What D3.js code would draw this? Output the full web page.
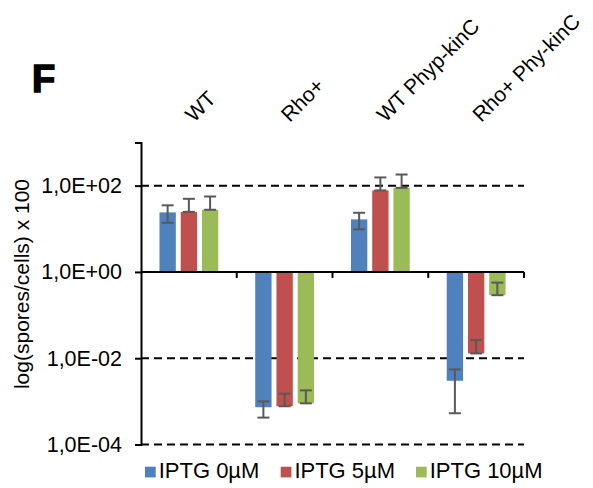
<!DOCTYPE html>
<html><head><meta charset="utf-8">
<script src="https://d3js.org/d3.v7.min.js"></script>
<style>body{margin:0;background:#fff}svg{display:block}text{font-family:"Liberation Sans",Arial,sans-serif}</style>
</head><body><svg id="c" width="593" height="488"></svg>
<script>
const categories = ["WT", "Rho+", "WT Phyp-kinC", "Rho+ Phy-kinC"];
const seriesNames = ["IPTG 0µM", "IPTG 5µM", "IPTG 10µM"];
const seriesColors = ["#4F81BD", "#C0504D", "#9BBB59"];
const iptg0 = [24, 7.3e-4, 16.5, 3.0e-3];
const iptg5 = [24.7, 7.7e-4, 77.5, 1.29e-2];
const iptg10 = [27.6, 9.0e-4, 89, 0.289];
const errHigh0 = [35, 1.0e-3, 23.5, 5.5e-3];
const errLow0 = [13.8, 4.2e-4, 9.7, 5.3e-4];
const errHigh5 = [49.5, 1.51e-3, 155, 2.63e-2];
const errLow5 = [null, null, null, null];
const errHigh10 = [56, 1.8e-3, 181, 0.566];
const errLow10 = [null, null, null, null];
const yTicks = [1e2, 1e0, 1e-2, 1e-4];
const yTickLabels = ["1,0E+02", "1,0E+00", "1,0E-02", "1,0E-04"];
const yTitle = "log(spores/cells) x 100";
const panelLabel = "F";

(function () {
const values = [iptg0, iptg5, iptg10];
const highs = [errHigh0, errHigh5, errHigh10];
const lows = [errLow0, errLow5, errLow10];

const svg = d3.select("#c");
const pLeft = 141, pRight = 524, pTop = 142.5, pBottom = 444.5;

const x0 = d3.scaleBand().domain(categories).range([pLeft, pRight]).padding(0);
const x1 = d3.scaleBand().domain(seriesNames).range([0, x0.bandwidth()]).paddingInner(0.23).paddingOuter(0.87);
const y = d3.scaleLog().domain([1e-4, 1e3]).range([pBottom, pTop]);
const base = y(1);

// gridlines (dashed)
svg.append("g").selectAll("line").data([1e2, 1e-2, 1e-4]).join("line")
  .attr("x1", pLeft).attr("x2", pRight)
  .attr("y1", d => y(d)).attr("y2", d => y(d))
  .attr("stroke", "#000").attr("stroke-width", 2).attr("stroke-dasharray", "8,5");

// bars
const rows = [];
categories.forEach((c, i) => seriesNames.forEach((s, j) => {
  rows.push({c, s, j, v: values[j][i], hi: highs[j][i], lo: lows[j][i]});
}));
svg.append("g").selectAll("rect").data(rows).join("rect")
  .attr("x", d => x0(d.c) + x1(d.s))
  .attr("width", x1.bandwidth())
  .attr("y", d => Math.min(y(d.v), base))
  .attr("height", d => Math.abs(y(d.v) - base))
  .attr("fill", d => seriesColors[d.j]);

// horizontal axis at 1
svg.append("line").attr("x1", pLeft).attr("x2", pRight).attr("y1", base).attr("y2", base)
  .attr("stroke", "#000").attr("stroke-width", 2);
const bounds = categories.map(c => x0(c) + x0.bandwidth());
svg.append("g").selectAll("line").data(bounds).join("line")
  .attr("x1", d => d).attr("x2", d => d).attr("y1", base).attr("y2", base + 6)
  .attr("stroke", "#000").attr("stroke-width", 2);

// y axis
const yAxis = d3.axisLeft(y).tickValues(yTicks).tickSize(6).tickPadding(13)
  .tickFormat((d, i) => yTickLabels[i]);
const ga = svg.append("g").attr("transform", `translate(${pLeft},0)`).call(yAxis);
ga.select(".domain").attr("stroke", "#000").attr("stroke-width", 2);
ga.selectAll(".tick line").attr("stroke", "#000").attr("stroke-width", 2);
ga.selectAll(".tick text").attr("font-size", 21.5).attr("fill", "#000")
  .attr("font-family", "Liberation Sans, Arial, sans-serif");

// error bars
const eg = svg.append("g").attr("stroke", "#595959").attr("stroke-width", 2);
rows.forEach(d => {
  const cx = x0(d.c) + x1(d.s) + x1.bandwidth() / 2;
  const yh = y(d.hi), yl = y(d.lo == null ? d.v : d.lo);
  eg.append("line").attr("x1", cx).attr("x2", cx).attr("y1", yh).attr("y2", yl);
  eg.append("line").attr("x1", cx - 6).attr("x2", cx + 6).attr("y1", yh).attr("y2", yh);
  eg.append("line").attr("x1", cx - 6).attr("x2", cx + 6).attr("y1", yl).attr("y2", yl);
});

// category labels (rotated, top)
svg.append("g").selectAll("text").data(categories).join("text")
  .attr("transform", d => `translate(${x0(d) + x0.bandwidth() / 2 + 5},123) rotate(-45)`)
  .attr("font-size", 21).attr("fill", "#000").text(d => d);

// y title
svg.append("text").attr("transform", "translate(29,284) rotate(-90)")
  .attr("text-anchor", "middle").attr("font-size", 21).attr("fill", "#000").text(yTitle);

// panel label
svg.append("text").attr("x", 32).attr("y", 92).attr("font-size", 38).attr("font-weight", "bold")
  .attr("stroke", "#000").attr("stroke-width", 1.5).attr("fill", "#000").text(panelLabel);

// legend
const legX = [145, 280.7, 416];
const lg = svg.append("g").selectAll("g").data(seriesNames).join("g")
  .attr("transform", (d, i) => `translate(${legX[i]},0)`);
lg.append("rect").attr("x", 0).attr("y", 466.7).attr("width", 10.7).attr("height", 10.7)
  .attr("fill", (d, i) => seriesColors[i]);
lg.append("text").attr("x", 13.7).attr("y", 477.7).attr("font-size", 22).attr("fill", "#000").text(d => d);
})();
</script></body></html>
